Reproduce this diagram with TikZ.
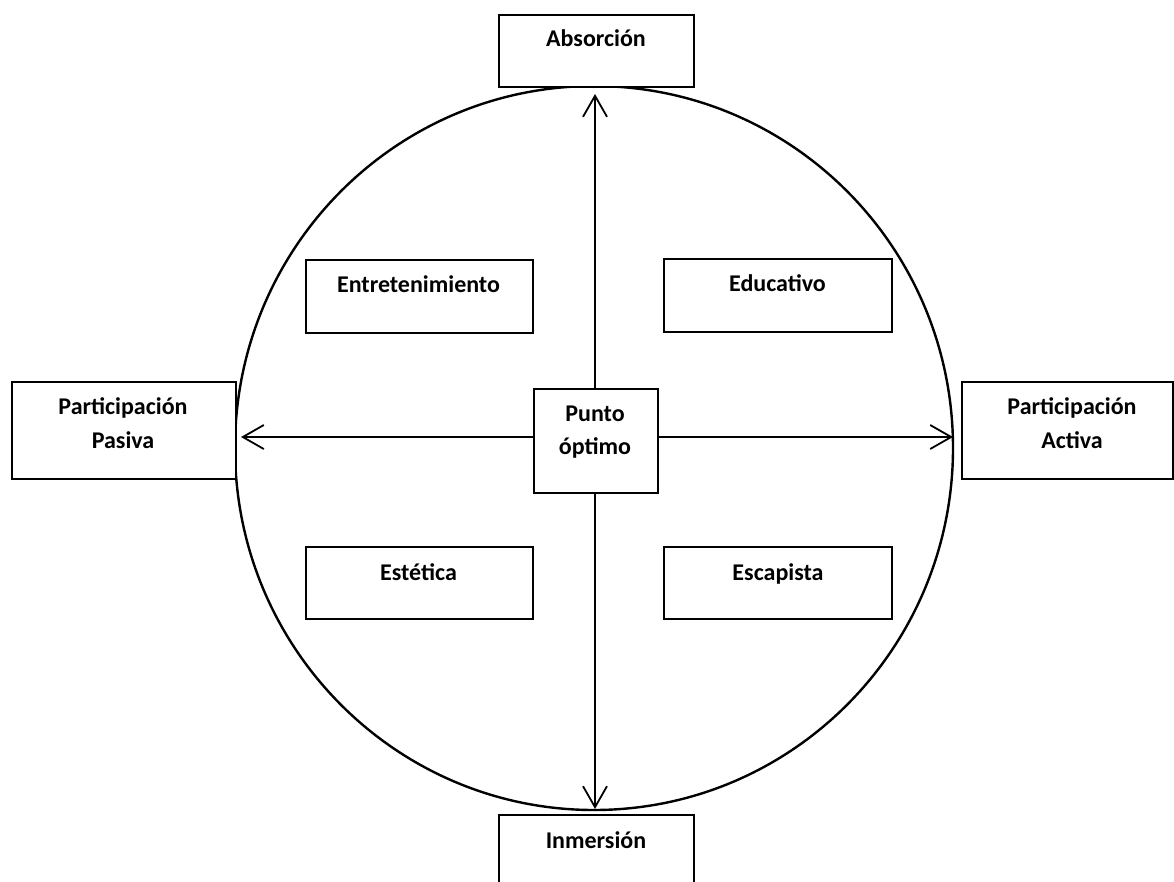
\documentclass[tikz,border=0pt]{standalone}
\usepackage{fontspec}
\setmainfont{Carlito}
\usetikzlibrary{arrows.meta}
\begin{document}
\begin{tikzpicture}[x=1pt,y=-1pt,
  box/.style={draw=black, fill=white, line width=2pt, inner sep=0pt, anchor=north west},
  lbl/.style={anchor=base, inner sep=0pt, font=\fontsize{24}{34}\selectfont\bfseries},
  arr/.style={draw=black, line width=1.8pt, -{Straight Barb[length=21pt,width=24pt,line width=1.8pt]}},
  ring/.style={draw=black, line width=2.4pt}]
  % canvas
  \fill[white] (0,0) rectangle (1174,881);
  \clip (0,0) rectangle (1174,881);

  % outer circle
  \draw[ring] (594,448) ellipse [x radius=359, y radius=362];

  % boxes on the axes
  \node[box, minimum width=195pt, minimum height=72pt]  (abs)    at (498,14)  {};
  \node[box, minimum width=195pt, minimum height=80pt]  (inm)    at (498,814) {};
  \node[box, minimum width=224pt, minimum height=97pt]  (pasiva) at (11,381)  {};
  \node[box, minimum width=211pt, minimum height=97pt]  (activa) at (961,381) {};
  \node[box, minimum width=124pt, minimum height=104pt] (punto)  at (533,388) {};

  % quadrant boxes
  \node[box, minimum width=227pt, minimum height=73pt] (ent) at (305,259) {};
  \node[box, minimum width=228pt, minimum height=73pt] (edu) at (663,258) {};
  \node[box, minimum width=227pt, minimum height=72pt] (est) at (305,546) {};
  \node[box, minimum width=228pt, minimum height=72pt] (esc) at (663,546) {};

  % labels
  \node[lbl] (tAbs)  at (596,46)    {Absorción};
  \node[lbl] (tInm)  at (596,848)   {Inmersión};
  \node[lbl] (tPa1)  at (123,414)   {Participación};
  \node[lbl] (tPa2)  at (123,448)   {Pasiva};
  \node[lbl] (tAc1)  at (1072,414)  {Participación};
  \node[lbl] (tAc2)  at (1072,448)  {Activa};
  \node[lbl] (tPu1)  at (595,421)   {Punto};
  \node[lbl] (tPu2)  at (595,454)   {óptimo};
  \node[lbl] (tEnt)  at (418.5,292) {Entretenimiento};
  \node[lbl] (tEdu)  at (777.5,291) {Educativo};
  \node[lbl] (tEst)  at (418.5,580) {Estética};
  \node[lbl] (tEsc)  at (778,580)   {Escapista};

  % arrow tips
  \coordinate (tipU) at (595,94);
  \coordinate (tipD) at (595,809);
  \coordinate (tipL) at (241,437);
  \coordinate (tipR) at (953,437);

  % axes from the centre box
  \draw[arr] (punto.north -| tipU) -- (tipU);
  \draw[arr] (punto.south -| tipD) -- (tipD);
  \draw[arr] (punto.west |- tipL) -- (tipL);
  \draw[arr] (punto.east |- tipR) -- (tipR);
\end{tikzpicture}
\end{document}
